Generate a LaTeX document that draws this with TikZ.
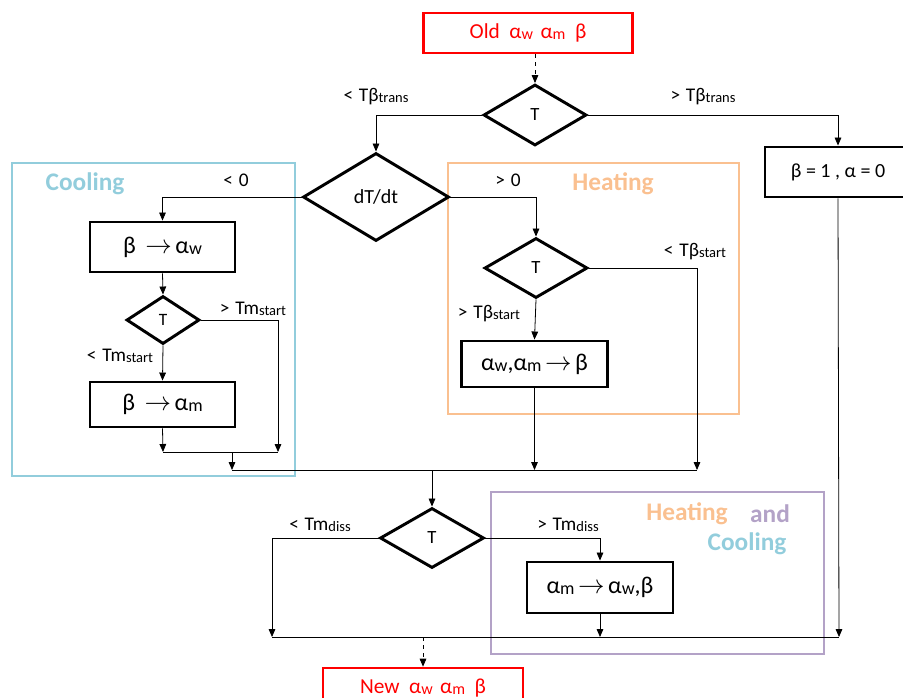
\documentclass[tikz,border=0pt]{standalone}
\usepackage{fontspec}
\setmainfont{Carlito}
\usetikzlibrary{shapes.geometric,arrows.meta}

\definecolor{coolblue}{RGB}{146,205,220}
\definecolor{heatorange}{RGB}{250,192,144}
\definecolor{bothpurple}{RGB}{179,162,199}
\newcommand{\lw}[1]{\raisebox{-0.1ex}{\scalebox{0.75}{#1}}}
\newcommand{\goes}{\scalebox{1.15}{$\rightarrow$}}

\begin{document}
\begin{tikzpicture}[x=0.75pt,y=0.75pt,yscale=-1,
	proc/.style={draw, line width=2.2pt, inner sep=0pt, font=\fontsize{18}{20}\selectfont},
	test/.style={draw, diamond, line width=2.2pt, inner sep=0pt, font=\fontsize{14}{16}\selectfont},
	io/.style={draw=red, text=red, line width=2pt, inner sep=0pt, font=\fontsize{16}{18}\selectfont},
	lbl/.style={inner sep=0pt, font=\fontsize{14.5}{16}\selectfont},
	flow/.style={-{Triangle[length=6pt,width=5pt]}, line width=0.6pt},
	frame/.style={line width=2pt},
	title/.style={inner sep=0pt, font=\bfseries\fontsize{19}{21}\selectfont}]
	\useasboundingbox (0,0) rectangle (903,697);

	%Frames
	\draw [frame, coolblue] (12,163) rectangle (295,476);
	\draw [frame, heatorange] (448,163) rectangle (739,414);
	\draw [frame, bothpurple] (491,492) rectangle (824,654);
	\node [title, coolblue] (tcool) at (85,184) {Cooling};
	\node [title, heatorange] (theat) at (613,184) {Heating};
	\node [title, heatorange] (thc1) at (687,514) {Heating};
	\node [title, bothpurple] (thc2) at (770,514) {and};
	\node [title, coolblue] (thc3) at (747,544) {Cooling};

	%Input and output
	\node [io, minimum width=156.75pt, minimum height=30pt] (old) at (528,33) {Old\hspace{0.45em}α\lw{w}\hspace{0.35em}α\lw{m}\hspace{0.45em}β};
	\node [io, minimum width=150pt, minimum height=30pt] (new) at (423,688) {New\hspace{0.45em}α\lw{w}\hspace{0.35em}α\lw{m}\hspace{0.45em}β};

	%Decisions
	\node [test, minimum width=77.25pt, minimum height=45.75pt] (t1) at (535,115) {T};
	\node [test, minimum width=109.5pt, minimum height=66pt, font=\fontsize{15}{17}\selectfont] (dtdt) at (376,197) {dT/dt};
	\node [test, minimum width=54.75pt, minimum height=36pt, font=\fontsize{13}{15}\selectfont] (t3) at (163,320) {T};
	\node [test, minimum width=77.25pt, minimum height=45pt] (t2) at (536,268) {T};
	\node [test, minimum width=78pt, minimum height=45pt] (t4) at (432,538) {T};

	%Processes
	\node [proc, minimum width=109.5pt, minimum height=37.5pt, font=\fontsize{15}{17}\selectfont] (fix) at (838,172) {β = 1 , α = 0};
	\node [proc, minimum width=108.75pt, minimum height=37.5pt] (bw) at (162.5,247) {β\hspace{0.4em}\goes\hspace{0.15em}α\lw{w}};
	\node [proc, minimum width=108.75pt, minimum height=33.75pt] (bm) at (162.5,404.5) {β\hspace{0.4em}\goes\hspace{0.15em}α\lw{m}};
	\node [proc, minimum width=110pt, minimum height=34.5pt] (wmb) at (534.5,364) {α\lw{w},α\lw{m}\hspace{0.15em}\goes\hspace{0.15em}β};
	\node [proc, minimum width=109.5pt, minimum height=38.25pt] (mwb) at (600,587.5) {α\lw{m}\hspace{0.15em}\goes\hspace{0.15em}α\lw{w},β};

	%Merge points
	\coordinate (cl) at (163,452);
	\coordinate (cr) at (278,452);
	\coordinate (cmid) at (232,452);
	\coordinate (ml) at (232,470);
	\coordinate (mr) at (697,470);
	\coordinate (bl) at (272,637);
	\coordinate (br) at (839,637);

	%Connectors
	\draw [flow, dashed] (old.south -| t1.north) -- (t1.north);
	\draw [flow] (t1.west) -| (dtdt.north);
	\draw [flow] (t1.east) -| (fix.north);
	\draw [flow] (dtdt.west) -| (bw.north);
	\draw [flow] (dtdt.east) -| (t2.north);
	\draw [flow] (bw.south) -- (t3.north);
	\draw [flow] (t3.south) -- (bm.north);
	\draw [flow] (t3.east) -| (cr);
	\draw [flow] (bm.south) -- (cl);
	\draw [line width=0.6pt] (cl) -- (cr);
	\draw [flow] (cmid) -- (ml);
	\draw [flow] (t2.south) -- (wmb.north);
	\draw [flow] (t2.east) -| (mr);
	\draw [flow] (wmb.south) -- (wmb.south |- ml);
	\draw [line width=0.6pt] (ml) -- (mr);
	\draw [flow] (t4.north |- ml) -- (t4.north);
	\draw [flow] (t4.west) -| (bl);
	\draw [flow] (t4.east) -| (mwb.north);
	\draw [flow] (mwb.south) -- (mwb.south |- bl);
	\draw [flow] (fix.south) -- (br);
	\draw [line width=0.6pt] (bl) -- (br);
	\draw [flow, dashed] (new.north |- bl) -- (new.north);

	% Text Node
	\node [lbl] (l1) at (376,97) {<\hspace{0.3em}Tβ\lw{trans}};
	\node [lbl] (l2) at (703,97) {>\hspace{0.3em}Tβ\lw{trans}};
	\node [lbl] (l3) at (236,180) {<\hspace{0.3em}0};
	\node [lbl] (l4) at (508,180) {>\hspace{0.3em}0};
	\node [lbl] (l5) at (253,309) {>\hspace{0.3em}Tm\lw{start}};
	\node [lbl] (l6) at (120,356) {<\hspace{0.3em}Tm\lw{start}};
	\node [lbl] (l7) at (695,252) {<\hspace{0.3em}Tβ\lw{start}};
	\node [lbl] (l8) at (489,314) {>\hspace{0.3em}Tβ\lw{start}};
	\node [lbl] (l9) at (320,525) {<\hspace{0.3em}Tm\lw{diss}};
	\node [lbl] (l10) at (568,525) {>\hspace{0.3em}Tm\lw{diss}};
\end{tikzpicture}
\end{document}
